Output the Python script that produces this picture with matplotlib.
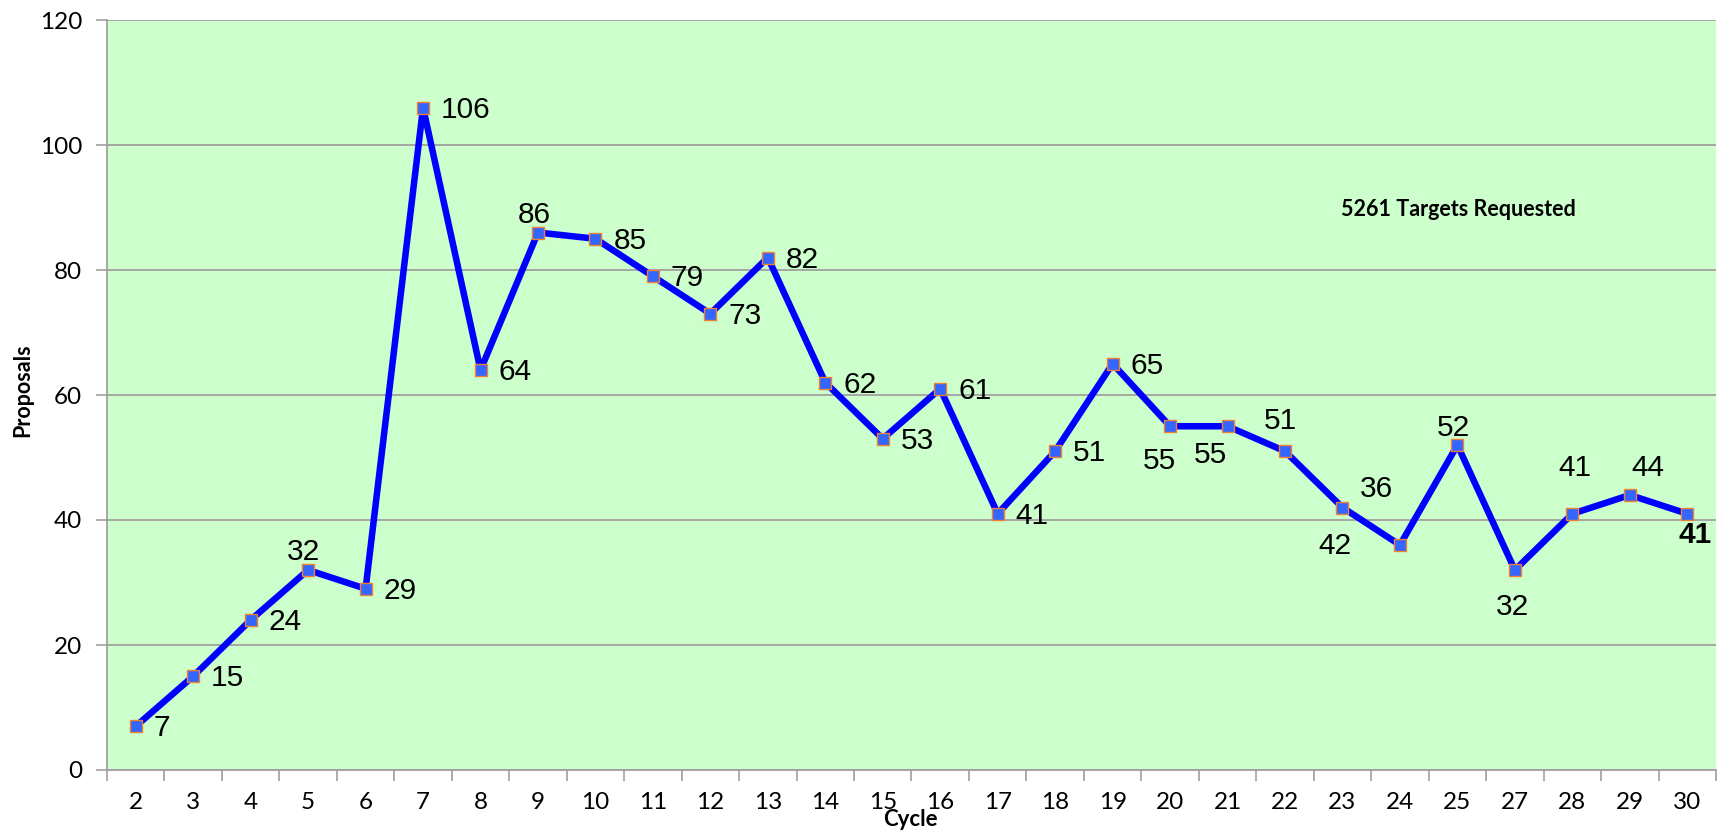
import numpy as np
import matplotlib
matplotlib.use('Agg')
import matplotlib.pyplot as plt
from matplotlib.ticker import FixedLocator, NullFormatter

# data
cycles = ['2', '3', '4', '5', '6', '7', '8', '9', '10', '11', '12', '13', '14', '15',
          '16', '17', '18', '19', '20', '21', '22', '23', '24', '25', '27', '28', '29', '30']
proposals = [7, 15, 24, 32, 29, 106, 64, 86, 85, 79, 73, 82, 62, 53,
             61, 41, 51, 65, 55, 55, 51, 42, 36, 52, 32, 41, 44, 41]
note = '5261 Targets Requested'

# label placement (pixels, image y downwards); None -> right of the point
lab_off = [None, None, None, (-5, -18), None, None, None, (-4, -18), None, None,
           None, None, None, None, None, None, None, None, (-11, 35), (-17, 29),
           (-5, -30), (-8, 38), (-23, -56), (-4, -17), (-2, 37), (3, -46), (18, -27), (8, 21)]

W, H = 1731, 834
fig = plt.figure(figsize=(W / 100, H / 100), dpi=100)
ax = fig.add_axes([107 / W, (H - 770) / H, (1716 - 107) / W, 750 / H])
ax.set_facecolor('#CCFFCC')

x = np.arange(len(cycles)) + 0.5
ax.plot(x, proposals, color='#0000FF', lw=4.7, marker='s', ms=8.3,
        mfc='#3366FF', mec='#F08030', mew=1.0, zorder=3)

for i, (xi, yi) in enumerate(zip(x, proposals)):
    bold = 'bold' if i == len(proposals) - 1 else 'normal'
    off = lab_off[i]
    if off is None:
        ax.annotate(str(yi), (xi, yi), xytext=(18, -2), textcoords='offset pixels',
                    ha='left', va='center', fontsize=21.5, family='Liberation Sans',
                    fontweight=bold, zorder=4)
    else:
        ax.annotate(str(yi), (xi, yi), xytext=(off[0], -off[1]), textcoords='offset pixels',
                    ha='center', va='center', fontsize=21.5, family='Liberation Sans',
                    fontweight=bold, zorder=4)

ax.set_xlim(0, len(cycles))
ax.set_ylim(0, 120)
ax.set_yticks(np.arange(0, 121, 20))
ax.yaxis.grid(True, color='#A0A0A0', lw=1.3)
ax.set_axisbelow(True)

ax.xaxis.set_major_locator(FixedLocator(np.arange(len(cycles) + 1)))
ax.xaxis.set_major_formatter(NullFormatter())
ax.xaxis.set_minor_locator(FixedLocator(x))
ax.set_xticklabels(cycles, minor=True)
ax.tick_params(axis='x', which='major', length=8, width=1.2, color='#A0A0A0', direction='out')
ax.tick_params(axis='x', which='minor', length=0, pad=16, labelsize=17.5)
ax.tick_params(axis='y', length=8, width=1.2, color='#A0A0A0', pad=10, labelsize=17.5)
for lab in ax.get_xticklabels(minor=True) + ax.get_yticklabels():
    lab.set_family('Lato')

for s in ['top', 'right']:
    ax.spines[s].set_visible(False)
for s in ['left', 'bottom']:
    ax.spines[s].set_color('#A0A0A0')
    ax.spines[s].set_linewidth(1.3)

ax.text(0.840, 0.747, note, transform=ax.transAxes, ha='center', va='center',
        fontsize=15.5, fontweight='bold', family='Lato')
fig.text(23 / W, 1 - 390 / H, 'Proposals', rotation=90, ha='center', va='center',
         fontsize=15.5, fontweight='bold', family='Lato')
fig.text(910 / W, 1 - 820 / H, 'Cycle', ha='center', va='center',
         fontsize=16, fontweight='bold', family='Lato')

fig.savefig('out.png', dpi=100)
